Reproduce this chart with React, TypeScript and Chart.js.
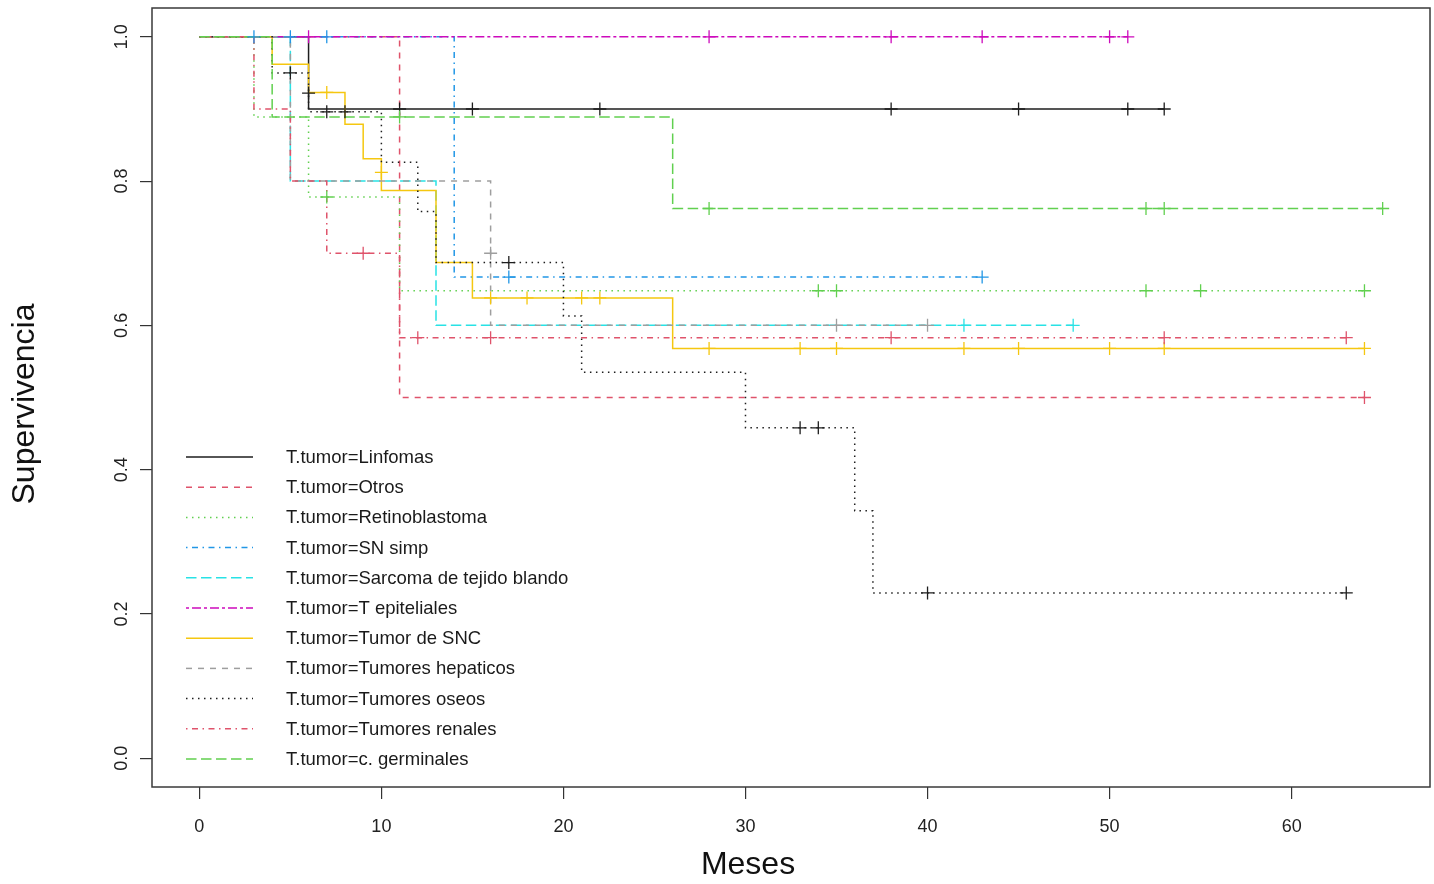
import React, { useEffect, useRef } from "react";
import { Chart, registerables } from "chart.js";

Chart.register(...registerables);

// ---------- axis ticks ----------
const xTicks = [0, 10, 20, 30, 40, 50, 60];
const yTicks = [0, 0.2, 0.4, 0.6, 0.8, 1.0];
const xTitle = "Meses";
const yTitle = "Supervivencia";

// ---------- series meta ----------
const seriesNames = [
  "T.tumor=Linfomas",
  "T.tumor=Otros",
  "T.tumor=Retinoblastoma",
  "T.tumor=SN simp",
  "T.tumor=Sarcoma de tejido blando",
  "T.tumor=T epiteliales",
  "T.tumor=Tumor de SNC",
  "T.tumor=Tumores hepaticos",
  "T.tumor=Tumores oseos",
  "T.tumor=Tumores renales",
  "T.tumor=c. germinales",
];
const seriesColors = [
  "#1e1e1e", "#DF536B", "#61D04F", "#2297E6", "#28E2E5", "#CD0BBC",
  "#F5C710", "#9E9E9E", "#1e1e1e", "#DF536B", "#61D04F",
];
const seriesLty = [
  "solid", "dashed", "dotted", "dotdash", "longdash", "twodash",
  "solid", "dashed", "dotted", "dotdash", "longdash",
];

// ---------- Kaplan-Meier steps (time, survival) and censor marks ----------
const linfomasTimes = [0, 6, 53];
const linfomasSurv = [1, 0.9, 0.9];
const linfomasCensT = [11, 15, 22, 38, 45, 51, 53];
const linfomasCensS = [0.9, 0.9, 0.9, 0.9, 0.9, 0.9, 0.9];

const otrosTimes = [0, 11, 64];
const otrosSurv = [1, 0.5, 0.5];
const otrosCensT = [64];
const otrosCensS = [0.5];

const retinoTimes = [0, 3, 6, 11, 64];
const retinoSurv = [1, 0.889, 0.778, 0.648, 0.648];
const retinoCensT = [7, 34, 35, 52, 55, 64];
const retinoCensS = [0.778, 0.648, 0.648, 0.648, 0.648, 0.648];

const snTimes = [0, 14, 43];
const snSurv = [1, 0.667, 0.667];
const snCensT = [3, 5, 7, 17, 43];
const snCensS = [1, 1, 1, 0.667, 0.667];

const sarcomaTimes = [0, 5, 13, 48];
const sarcomaSurv = [1, 0.8, 0.6, 0.6];
const sarcomaCensT = [42, 48];
const sarcomaCensS = [0.6, 0.6];

const epitelTimes = [0, 51];
const epitelSurv = [1, 1];
const epitelCensT = [6, 28, 38, 43, 50, 51];
const epitelCensS = [1, 1, 1, 1, 1, 1];

const sncTimes = [0, 4, 6, 8, 9, 10, 13, 15, 26, 64];
const sncSurv = [1, 0.962, 0.923, 0.879, 0.831, 0.787, 0.687, 0.638, 0.568, 0.568];
const sncCensT = [7, 10, 16, 18, 21, 22, 28, 33, 35, 42, 45, 50, 53, 64];
const sncCensS = [0.923, 0.812, 0.638, 0.638, 0.638, 0.638, 0.568, 0.568, 0.568, 0.568, 0.568, 0.568, 0.568, 0.568];

const hepatTimes = [0, 5, 16, 40];
const hepatSurv = [1, 0.8, 0.6, 0.6];
const hepatCensT = [16, 35, 40];
const hepatCensS = [0.7, 0.6, 0.6];

const oseosTimes = [0, 4, 6, 10, 12, 13, 20, 21, 30, 36, 37, 63];
const oseosSurv = [1, 0.95, 0.896, 0.826, 0.758, 0.687, 0.613, 0.535, 0.458, 0.343, 0.229, 0.229];
const oseosCensT = [5, 6, 7, 8, 17, 33, 34, 40, 63];
const oseosCensS = [0.95, 0.922, 0.896, 0.896, 0.687, 0.458, 0.458, 0.229, 0.229];

const renalesTimes = [0, 3, 5, 7, 11, 63];
const renalesSurv = [1, 0.9, 0.8, 0.7, 0.583, 0.583];
const renalesCensT = [9, 12, 16, 38, 53, 63];
const renalesCensS = [0.7, 0.583, 0.583, 0.583, 0.583, 0.583];

const germTimes = [0, 4, 26, 65];
const germSurv = [1, 0.889, 0.762, 0.762];
const germCensT = [11, 28, 52, 53, 65];
const germCensS = [0.889, 0.762, 0.762, 0.762, 0.762];

const stepTimes = [linfomasTimes, otrosTimes, retinoTimes, snTimes, sarcomaTimes, epitelTimes, sncTimes, hepatTimes, oseosTimes, renalesTimes, germTimes];
const stepSurv = [linfomasSurv, otrosSurv, retinoSurv, snSurv, sarcomaSurv, epitelSurv, sncSurv, hepatSurv, oseosSurv, renalesSurv, germSurv];
const censTimes = [linfomasCensT, otrosCensT, retinoCensT, snCensT, sarcomaCensT, epitelCensT, sncCensT, hepatCensT, oseosCensT, renalesCensT, germCensT];
const censSurv = [linfomasCensS, otrosCensS, retinoCensS, snCensS, sarcomaCensS, epitelCensS, sncCensS, hepatCensS, oseosCensS, renalesCensS, germCensS];

// ---------- styling ----------
const FONT = '"Liberation Sans", Arial, Helvetica, sans-serif';
const LW = 1.5;
const dashMap: Record<string, number[]> = {
  solid: [],
  dashed: [6, 6],
  dotted: [1.5, 4.5],
  dotdash: [1.5, 4.5, 6, 4.5],
  longdash: [10.5, 4.5],
  twodash: [3, 3, 9, 3],
};

const overlayPlugin = {
  id: "overlay",
  afterDatasetsDraw(chart: any) {
    const c = chart.ctx as CanvasRenderingContext2D;
    const a = chart.chartArea;
    c.save();
    // plot box
    c.setLineDash([]);
    c.strokeStyle = "#3a3a3a";
    c.lineWidth = 1.5;
    c.strokeRect(a.left, a.top, a.right - a.left, a.bottom - a.top);

    // legend (bottom-left, inside plot)
    const lx0 = a.left + 34;
    const lx1 = a.left + 101;
    const tx = a.left + 134;
    const y0 = 457;
    const dy = 30.2;
    c.font = `18.5px ${FONT}`;
    c.textBaseline = "middle";
    c.textAlign = "left";
    seriesNames.forEach((name, i) => {
      const y = y0 + i * dy;
      c.beginPath();
      c.setLineDash(dashMap[seriesLty[i]]);
      c.strokeStyle = seriesColors[i];
      c.lineWidth = LW;
      c.moveTo(lx0, y);
      c.lineTo(lx1, y);
      c.stroke();
      c.setLineDash([]);
      c.fillStyle = "#1a1a1a";
      c.fillText(name, tx, y + 1);
    });

    // axis titles
    c.fillStyle = "#111";
    c.font = `32px ${FONT}`;
    c.textAlign = "center";
    c.textBaseline = "middle";
    c.fillText(xTitle, 748, 865);
    c.save();
    c.translate(25, 404);
    c.rotate(-Math.PI / 2);
    c.fillText(yTitle, 0, 0);
    c.restore();
    c.restore();
  },
};

const zeroPad = (s: any) => {
  s.paddingTop = 0;
  s.paddingBottom = 0;
  s.paddingLeft = 0;
  s.paddingRight = 0;
};

export default function App() {
  const ref = useRef<HTMLCanvasElement>(null);

  useEffect(() => {
    const canvas = ref.current;
    if (!canvas) return;
    const datasets: any[] = [];
    seriesNames.forEach((name, i) => {
      datasets.push({
        type: "line",
        label: name,
        data: stepTimes[i].map((t, k) => ({ x: t, y: stepSurv[i][k] })),
        borderColor: seriesColors[i],
        borderWidth: LW,
        borderDash: dashMap[seriesLty[i]],
        stepped: true,
        pointRadius: 0,
        pointHoverRadius: 0,
        fill: false,
        order: 100 - i,
      });
      datasets.push({
        type: "line",
        label: name + " (censura)",
        data: censTimes[i].map((t, k) => ({ x: t, y: censSurv[i][k] })),
        showLine: false,
        pointStyle: "cross",
        pointRadius: 6.5,
        pointHoverRadius: 6.5,
        pointBorderColor: seriesColors[i],
        pointBorderWidth: 1.3,
        order: 50 - i,
      });
    });

    const chart = new Chart(canvas, {
      type: "line",
      data: { datasets },
      plugins: [overlayPlugin],
      options: {
        animation: false,
        responsive: false,
        maintainAspectRatio: false,
        devicePixelRatio: 1,
        layout: { autoPadding: false, padding: { top: 8, right: 4, left: 0, bottom: 0 } },
        plugins: {
          legend: { display: false },
          tooltip: { enabled: false },
          title: { display: false },
        },
        scales: {
          x: {
            type: "linear",
            min: -2.6,
            max: 67.6,
            afterBuildTicks: (s: any) => {
              s.ticks = xTicks.map((v) => ({ value: v }));
            },
            afterFit: (s: any) => {
              s.height = 97;
              zeroPad(s);
            },
            grid: {
              display: true,
              drawOnChartArea: false,
              drawTicks: true,
              tickLength: 12,
              color: "#333",
              lineWidth: 1.2,
            },
            border: { display: false },
            ticks: {
              padding: 17,
              color: "#222",
              font: { family: FONT, size: 18 },
              maxRotation: 0,
              callback: (v: any) => String(v),
            },
          },
          y: {
            type: "linear",
            min: -0.04,
            max: 1.04,
            afterBuildTicks: (s: any) => {
              s.ticks = yTicks.map((v) => ({ value: v }));
            },
            afterFit: (s: any) => {
              s.width = 152;
              zeroPad(s);
            },
            grid: {
              display: true,
              drawOnChartArea: false,
              drawTicks: true,
              tickLength: 12,
              color: "#333",
              lineWidth: 1.2,
            },
            border: { display: false },
            ticks: {
              padding: 5,
              color: "#222",
              font: { family: FONT, size: 18 },
              minRotation: 90,
              maxRotation: 90,
              crossAlign: "center",
              callback: (v: any) => Number(v).toFixed(1),
            },
          },
        },
      } as any,
    });
    return () => chart.destroy();
  }, []);

  return (
    <div style={{ position: "fixed", left: 0, top: 0, width: 1434, height: 884, background: "#fff" }}>
      <canvas ref={ref} width={1434} height={884} style={{ width: 1434, height: 884, display: "block" }} />
    </div>
  );
}
